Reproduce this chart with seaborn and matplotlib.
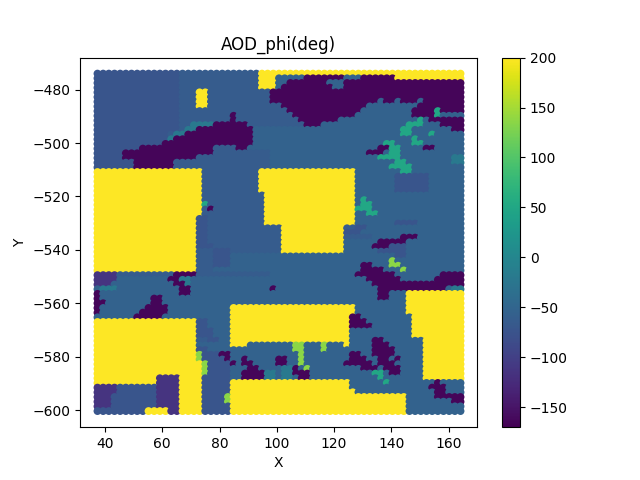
import matplotlib
matplotlib.use("Agg")
import matplotlib.pyplot as plt
import seaborn as sns
import pandas as pd

# colour classes, value in deg
levels = {'d': -165, 'p': -115, 'm': -72, 'n': -64, 'b': -55, 'e': -20, 'g': 50, 'l': 135, 'y': 200}

# one string per scan row, top to bottom: letter + last column of that run
rows = [
    "m14 n28 y64",
    "m14 n28 y31 b36 d43 b46 d52 y64",
    "m14 n28 y31 b33 d40 b43 d64",
    "m14 n28 y31 b32 d41 b43 d64",
    "m14 n17 y19 n30 d64",
    "m14 n17 y19 n30 d64",
    "m14 n17 y19 n30 d49 b50 d52 b53 d56 b57 d64",
    "m14 n17 y19 n32 d47 b56 d64",
    "m14 n33 d46 b55 d59 g60 d64",
    "m14 n23 d24 n34 d45 b55 d59 g60 b64",
    "m14 n23 d24 n35 d42 b56 g57 b58 d64",
    "m14 n16 e20 d26 n36 d39 b54 g57 b60 d64",
    "m14 n15 e17 d27 b53 g55 b62 d64",
    "m12 n13 e15 d27 b53 g55 b58 g59 b64",
    "m12 e13 d27 b55 g56 b64",
    "m11 d27 b50 g52 b55 g57 b64",
    "m7 d20 n24 d26 b49 d51 g53 b57 d59 b64",
    "m4 d20 n30 b47 d50 b51 g53 b64",
    "m4 d17 n30 b49 g53 b62 e64",
    "m6 d13 n30 b52 g54 b62 e64",
    "m6 d13 n30 b51 g55 b64",
    "y18 n28 y45 b53 g55 b64",
    "y18 n28 y45 b52 m58 b64",
    "y18 n28 y45 b52 m58 b64",
    "y18 n28 y45 b52 m58 b64",
    "y18 n28 y45 b52 m58 b64",
    "y18 n29 y45 b64",
    "y18 n29 y45 b46 g47 b64",
    "y18 g19 n29 y45 b46 g48 b64",
    "y18 n19 d20 n29 y45 g48 b64",
    "y18 n29 y45 b47 g49 b64",
    "y17 m19 n29 y45 b64",
    "y17 m19 n29 y45 b52 m56 b64",
    "y17 m19 n32 y43 n45 m47 b64",
    "y17 m19 n32 y43 m46 b64",
    "y17 m19 n32 y43 n48 b53 d56 b64",
    "y17 m19 n32 y43 b49 d54 b64",
    "y17 m20 n32 y43 b48 d51 m54 b64",
    "y17 n20 m23 n32 y43 b49 m54 b64",
    "y17 n20 m23 b52 m54 b64",
    "y17 n20 m23 b51 l52 b64",
    "y17 n20 m23 b46 d48 b51 l53 b64",
    "y17 n20 b46 d50 b53 l54 b64",
    "p3 n13 d17 n30 b45 d52 b60 d64",
    "p3 b12 d14 e16 b47 d53 b59 d64",
    "p2 b13 d15 e16 b48 d64",
    "b0 e3 b14 d16 b30 d31 b49 d61 b62 e64",
    "d0 b14 d16 b49 d51 b54 y64",
    "d0 b9 d11 b49 d51 b54 y64",
    "d1 b9 d11 b54 y64",
    "d0 b8 d12 b23 y45 b54 y64",
    "d0 b7 d12 b23 y45 b54 y64",
    "b6 d11 b23 y44 d46 b55 y64",
    "y17 m19 b23 y44 d47 b55 y64",
    "y17 m19 b23 y44 d48 b55 y64",
    "y17 m20 b23 y44 b55 y64",
    "y17 m20 b23 y44 b55 y64",
    "y17 n19 m21 b23 y44 b48 d50 b57 y64",
    "y17 b23 y26 b34 l36 b39 l40 b43 y44 b48 d51 b57 y64",
    "y17 m19 b34 l36 b39 l40 b48 d52 b57 y64",
    "y17 l18 m21 d23 b35 l36 b44 d46 b48 d52 b57 y64",
    "y17 l18 m22 d23 b25 d26 b31 d33 b35 l36 b44 d47 b49 d51 b52 d53 b57 y64",
    "y18 l19 m23 d24 b25 d27 b31 d33 b35 l36 b43 d48 b49 d52 b57 y64",
    "y18 l19 m23 b26 d28 b32 e34 d35 b36 l37 b46 d49 b50 d53 b57 y64",
    "y18 l19 m23 b25 d29 e31 b32 e34 d37 b48 g50 b51 d53 b57 y64",
    "y10 p14 y18 m23 b25 d29 e31 b32 e34 b35 d37 b49 g50 b57 y64",
    "y10 p14 y18 m23 y44 b50 g51 b59 d60 b64",
    "p3 m10 p14 y18 m23 y44 b58 d61 b64",
    "p3 m10 p14 y18 m23 y45 b59 d61 b64",
    "p2 m10 p14 y18 m22 l23 y54 b59 d64",
    "p2 m10 p14 y18 m22 l23 y54 b62 d64",
    "p2 m10 p14 y18 m23 y54 b64",
    "m8 y12 p14 y18 m23 y54 b64",
]

x_start, x_step = 37.4, 1.98
y_start, y_step = -474.0, 1.755

xs, ys, vals = [], [], []
for r, row in enumerate(rows):
    col = 0
    for run in row.split():
        last = int(run[1:])
        while col <= last:
            xs.append(x_start + col * x_step)
            ys.append(y_start - r * y_step)
            vals.append(levels[run[0]])
            col += 1

df = pd.DataFrame({"X": xs, "Y": ys, "val": vals})

fig, ax = plt.subplots(figsize=(6.4, 4.8), dpi=100)
sns.scatterplot(data=df, x="X", y="Y", hue="val", hue_norm=(-170, 200), palette="viridis",
                s=32, linewidth=0, legend=False, ax=ax)
ax.set_xlim(31.3, 169.8)
ax.set_ylim(-606.4, -468)
ax.set_title("AOD_phi(deg)")
sm = plt.cm.ScalarMappable(cmap="viridis", norm=plt.Normalize(-170, 200))
fig.colorbar(sm, ax=ax)
plt.savefig("out.png")
